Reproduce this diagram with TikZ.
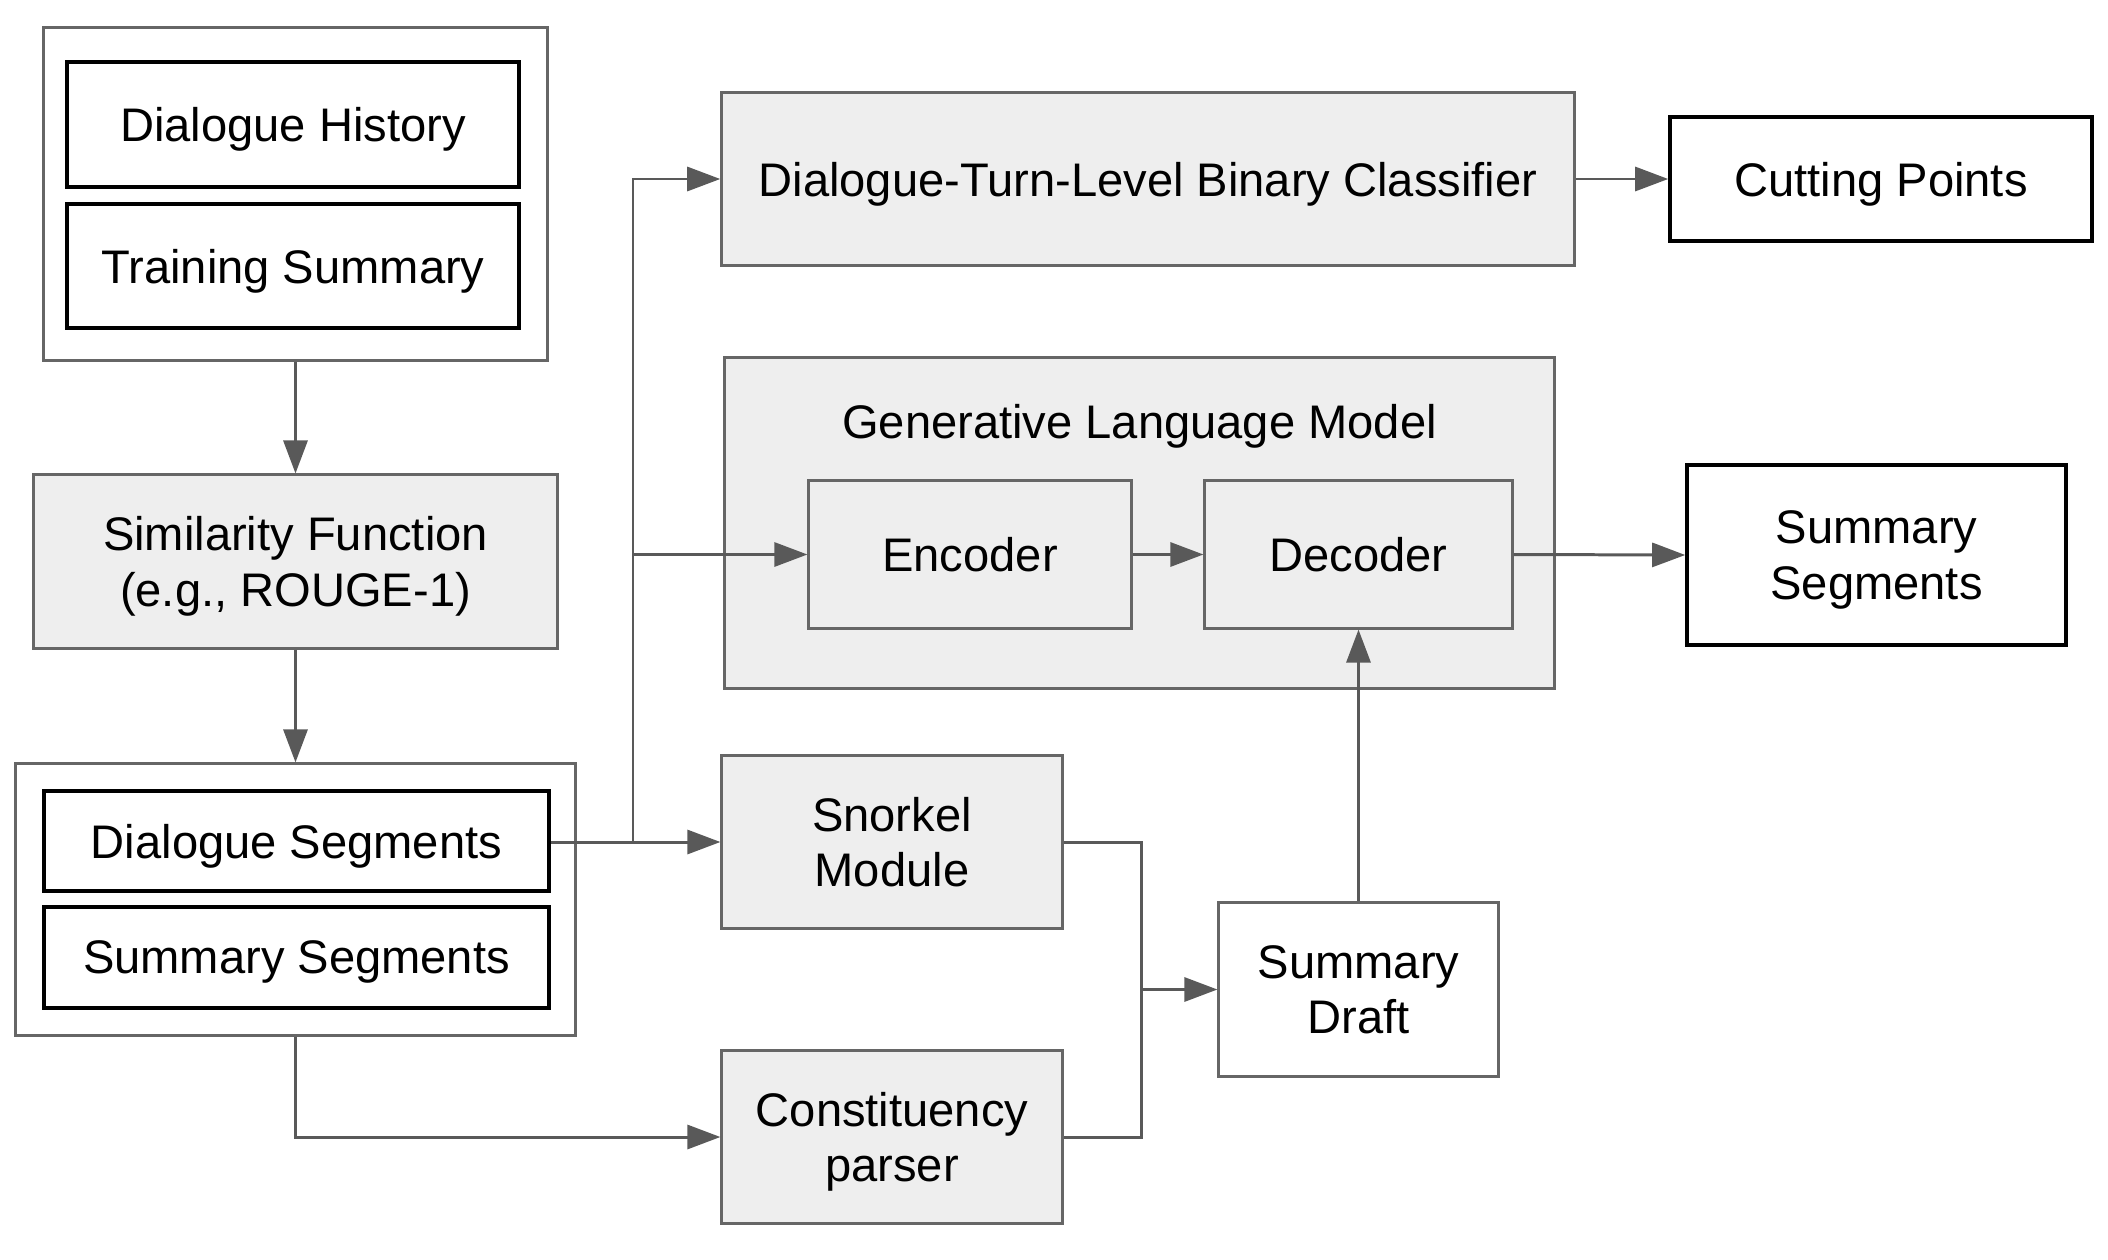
\documentclass[tikz,border=0pt]{standalone}
\usepackage{fontspec}
\setmainfont{Liberation Sans}
\usepackage{tikz}
\usetikzlibrary{arrows.meta,positioning}
\definecolor{linegray}{HTML}{595959}
\definecolor{edgegray}{HTML}{666666}
\definecolor{fillgray}{HTML}{EEEEEE}
\begin{document}
\begin{tikzpicture}[x=0.01cm,y=-0.01cm,every node/.style={font=\fontsize{13.4}{15.8}\selectfont,align=center,inner sep=0pt,text depth=0pt},frame/.style={draw=edgegray,line width=0.85pt},item/.style={draw=black,line width=0.95pt},proc/.style={draw=edgegray,fill=fillgray,line width=0.85pt},plain/.style={draw=edgegray,fill=white,line width=0.85pt},arrow/.style={-{Triangle[length=3.3mm,width=2.4mm]},line width=0.85pt,linegray},link/.style={line width=0.85pt,linegray}]
\useasboundingbox (0,0) rectangle (2108,1260);
\node[frame,minimum width=5.03cm,minimum height=3.32cm] (inbox) at (295.5,194) {};
\node[item,minimum width=4.52cm,minimum height=1.25cm] (hist) at (293,124.5) {Dialogue History};
\node[item,minimum width=4.52cm,minimum height=1.24cm] (train) at (293,266) {Training Summary};
\node[proc,minimum width=5.23cm,minimum height=1.73cm] (sim) at (295.5,561.5) {Similarity Function\\(e.g., ROUGE-1)};
\node[frame,minimum width=5.59cm,minimum height=2.71cm] (segbox) at (295.5,899.5) {};
\node[item,minimum width=5.05cm,minimum height=1.00cm] (dseg) at (296.5,841) {Dialogue Segments};
\node[item,minimum width=5.05cm,minimum height=1.01cm] (sseg) at (296.5,957.5) {Summary Segments};
\node[proc,minimum width=8.52cm,minimum height=1.72cm] (cls) at (1148,179) {Dialogue-Turn-Level Binary Classifier};
\node[item,minimum width=4.22cm,minimum height=1.24cm] (cut) at (1881,179) {Cutting Points};
\node[proc,minimum width=8.29cm,minimum height=3.30cm] (glm) at (1139.5,523) {};
\node (glmt) at (1139.5,421) {Generative Language Model};
\node[proc,minimum width=3.22cm,minimum height=1.47cm] (enc) at (970,554.5) {Encoder};
\node[proc,minimum width=3.07cm,minimum height=1.47cm] (dec) at (1358.5,554.5) {Decoder};
\node[item,minimum width=3.79cm,minimum height=1.80cm] (out) at (1876.5,555) {Summary\\Segments};
\node[proc,minimum width=3.40cm,minimum height=1.72cm] (snk) at (892,842) {Snorkel\\Module};
\node[proc,minimum width=3.40cm,minimum height=1.72cm] (cst) at (892,1137) {Constituency\\parser};
\node[plain,minimum width=2.79cm,minimum height=1.73cm] (draft) at (1358.5,989.5) {Summary\\Draft};
\coordinate (br) at (633,842);
\coordinate (mg) at (1141,989.5);
\draw[arrow] (inbox) -- (sim);
\draw[arrow] (sim) -- (segbox);
\draw[arrow] (dseg.east |- snk.west) -- (snk.west);
\draw[arrow] (br) |- (cls.west);
\draw[arrow] (br |- enc.west) -- (enc.west);
\draw[arrow] (segbox.south) |- (cst.west);
\draw[link] (snk.east) -| (mg);
\draw[link] (cst.east) -| (mg);
\draw[arrow] (mg) -- (draft.west);
\draw[arrow] (draft) -- (dec);
\draw[arrow] (enc) -- (dec);
\draw[arrow] (dec.east) -- (out.west);
\draw[arrow] (cls) -- (cut);
\end{tikzpicture}
\end{document}
